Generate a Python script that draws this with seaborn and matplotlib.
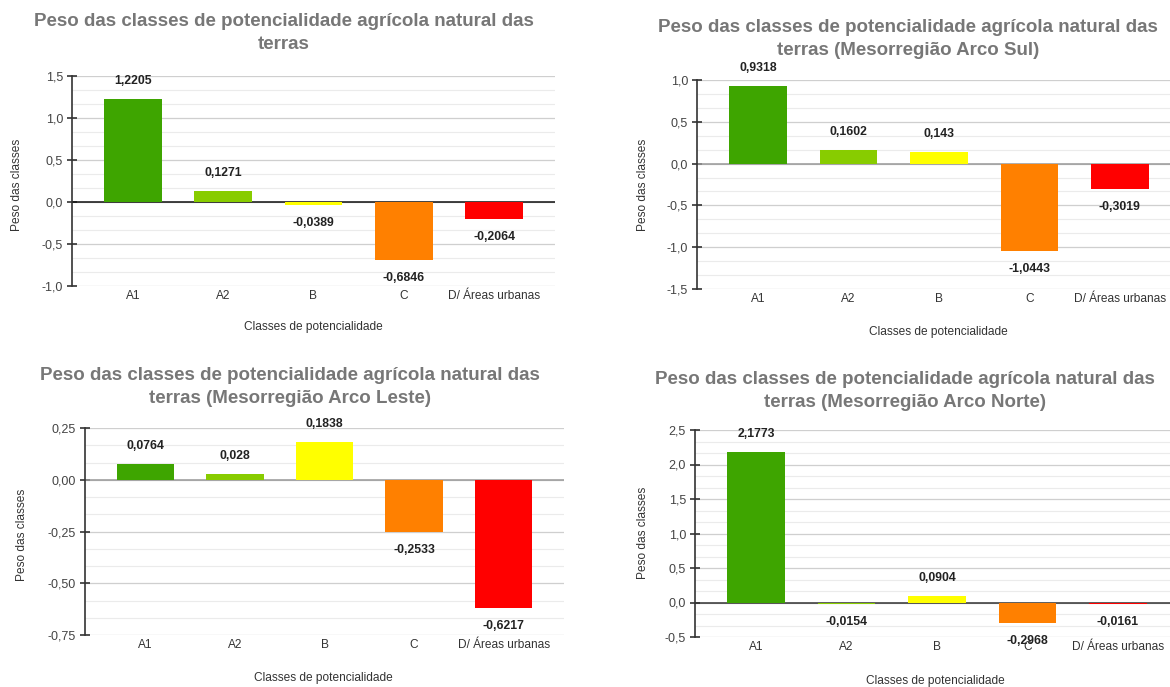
import matplotlib
matplotlib.use("Agg")
import matplotlib.pyplot as plt
from matplotlib.ticker import MultipleLocator, FuncFormatter
import seaborn as sns

sns.set_theme(style="white")
plt.rcParams['font.family'] = ['Liberation Sans', 'DejaVu Sans']

# dados
classes = ["A1", "A2", "B", "C", "D/ Áreas urbanas"]
cores = ["#3ea500", "#88cc00", "#ffff00", "#ff8000", "#ff0000"]

peso_geral = [1.2205, 0.1271, -0.0389, -0.6846, -0.2064]
peso_sul = [0.9318, 0.1602, 0.143, -1.0443, -0.3019]
peso_leste = [0.0764, 0.028, 0.1838, -0.2533, -0.6217]
peso_norte = [2.1773, -0.0154, 0.0904, -0.2968, -0.0161]

titulos = [
    "Peso das classes de potencialidade agrícola natural das\nterras",
    "Peso das classes de potencialidade agrícola natural das\nterras (Mesorregião Arco Sul)",
    "Peso das classes de potencialidade agrícola natural das\nterras (Mesorregião Arco Leste)",
    "Peso das classes de potencialidade agrícola natural das\nterras (Mesorregião Arco Norte)",
]
xlabel = "Classes de potencialidade"
ylabel = "Peso das classes"

W, H = 1170, 687
fig = plt.figure(figsize=(W / 100, H / 100), dpi=100)
fig.patch.set_facecolor("white")


def px_rect(x0, x1, ytop, ybot):
    return [x0 / W, 1 - ybot / H, (x1 - x0) / W, (ybot - ytop) / H]


# (valores, título, eixos px, ylim, passo, casas, cor do zero, pos título, pos xlabel, pos ylabel)
paineis = [
    (peso_geral, titulos[0], (72, 555, 76, 286), (-1.0, 1.5), 0.5, 1, "#111111",
     (284, 33), (313, 327), (17, 185)),
    (peso_sul, titulos[1], (697, 1181, 80, 289), (-1.5, 1.0), 0.5, 1, "#9a9a9a",
     (908, 39), (938, 332), (643, 185)),
    (peso_leste, titulos[2], (85, 564, 428, 635), (-0.75, 0.25), 0.25, 2, "#9a9a9a",
     (290, 387), (323, 678), (22, 535)),
    (peso_norte, titulos[3], (695, 1179, 430, 637), (-0.5, 2.5), 0.5, 1, "#333333",
     (905, 391), (935, 681), (643, 533)),
]

for vals, tit, r, ylim, passo, casas, zcor, tpos, xlpos, ylpos in paineis:
    ax = fig.add_axes(px_rect(*r))
    sns.barplot(x=classes, y=vals, hue=classes, palette=cores, legend=False,
                width=0.64, saturation=1, linewidth=0, ax=ax, zorder=2)
    ax.set_xlim(-0.675, 4.675)
    ax.set_ylim(*ylim)
    ax.yaxis.set_major_locator(MultipleLocator(passo))
    ax.yaxis.set_minor_locator(MultipleLocator(passo / 3))
    ax.yaxis.set_major_formatter(
        FuncFormatter(lambda v, p, c=casas: f"{v:.{c}f}".replace(".", ",")))
    ax.grid(True, which="major", axis="y", color="#cfcfcf", lw=0.9, zorder=0)
    ax.grid(True, which="minor", axis="y", color="#ebebeb", lw=0.8, zorder=0)
    ax.set_axisbelow(True)
    for s in ["top", "right", "bottom"]:
        ax.spines[s].set_visible(False)
    ax.spines["left"].set_color("#333333")
    ax.spines["left"].set_linewidth(1.2)
    ax.axhline(0, color=zcor, lw=1.1, zorder=1.9)
    ax.tick_params(axis="y", which="major", direction="inout", length=7, width=1.2,
                   color="#333333", labelsize=9, labelcolor="#444444", pad=3, left=True)
    ax.tick_params(axis="y", which="minor", length=0)
    ax.tick_params(axis="x", length=0, labelsize=8.6, labelcolor="#333333", pad=3)
    ax.set_xlabel("")
    ax.set_ylabel("")

    for i, v in enumerate(vals):
        txt = str(v).replace(".", ",")
        ax.annotate(txt, (i, v), xytext=(0, 13 if v >= 0 else -13),
                    textcoords="offset points", ha="center", va="center",
                    fontsize=8.8, fontweight="bold", color="#222222", zorder=4)

    fig.text(tpos[0] / W, 1 - tpos[1] / H, tit, ha="center", va="center",
             fontsize=13.5, fontweight="bold", color="#777777", linespacing=1.5)
    fig.text(xlpos[0] / W, 1 - xlpos[1] / H, xlabel, ha="center", va="center",
             fontsize=8.6, color="#333333")
    fig.text(ylpos[0] / W, 1 - ylpos[1] / H, ylabel, ha="center", va="center",
             fontsize=8.6, color="#333333", rotation=90)

fig.savefig("out.png", dpi=100, facecolor="white")
